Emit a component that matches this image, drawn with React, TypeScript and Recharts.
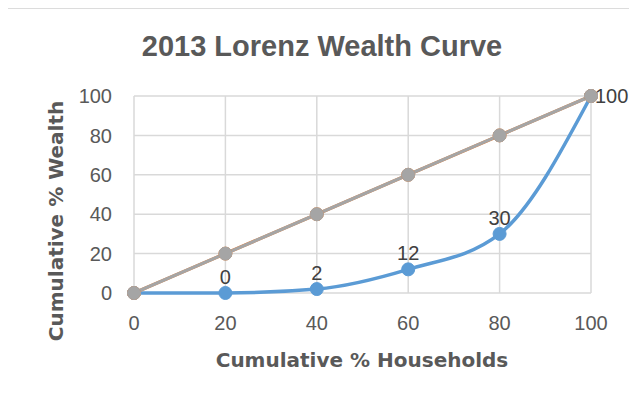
import { LineChart, Line, XAxis, YAxis, CartesianGrid, LabelList } from "recharts";

const households = [0, 20, 40, 60, 80, 100];
const wealthShare = [0, 0, 2, 12, 30, 100];
const equalityLine = [0, 20, 40, 60, 80, 100];
const xTicks = [0, 20, 40, 60, 80, 100];
const yTicks = [0, 20, 40, 60, 80, 100];

const TITLE = "2013 Lorenz Wealth Curve";
const X_TITLE = "Cumulative % Households";
const Y_TITLE = "Cumulative % Wealth";

const data = households.map((x, i) => ({
  x,
  wealth: wealthShare[i],
  equal: equalityLine[i],
}));

const tickFont = { fill: "#595959", fontSize: 20, fontFamily: "Liberation Sans, Arial, sans-serif" };

// Excel puts labels above each point, the last one to its right; first one is not shown
const WealthLabel = (props: any) => {
  const { x, y, value, index } = props;
  if (index === 0) return null;
  const last = index === data.length - 1;
  return (
    <text
      x={last ? x + 4 : x}
      y={last ? y + 7 : y - 9}
      textAnchor={last ? "start" : "middle"}
      fill="#404040"
      fontSize={20}
      fontFamily="Liberation Sans, Arial, sans-serif"
    >
      {value}
    </text>
  );
};

export default function App() {
  return (
    <div style={{ position: "relative", width: 637, height: 403, margin: -8, overflow: "hidden", background: "#fff" }}>
      <div
        style={{
          position: "absolute",
          left: 5,
          top: 7,
          width: 700,
          height: 500,
          borderLeft: "2px solid #dcdcdc",
          borderTop: "2px solid #dcdcdc",
        }}
      />
      <div style={{ position: "absolute", left: 0, top: 0 }}>
        <LineChart width={637} height={403} data={data} margin={{ top: 96, right: 46, bottom: 70, left: 74 }}>
          <CartesianGrid stroke="#d9d9d9" strokeWidth={1.5} />
          <XAxis
            type="number"
            dataKey="x"
            domain={[0, 100]}
            ticks={xTicks}
            axisLine={false}
            tickLine={false}
            tickSize={0}
            tickMargin={23}
            height={40}
            tick={tickFont}
          />
          <YAxis
            type="number"
            domain={[0, 100]}
            ticks={yTicks}
            axisLine={false}
            tickLine={false}
            tickSize={0}
            tickMargin={22}
            width={60}
            tick={tickFont}
          />
          <Line
            type="monotone"
            dataKey="wealth"
            stroke="#5B9BD5"
            strokeWidth={3.5}
            dot={{ r: 6.5, fill: "#5B9BD5", stroke: "#5B9BD5", strokeWidth: 1 }}
            isAnimationActive={false}
          >
            <LabelList dataKey="wealth" content={<WealthLabel />} />
          </Line>
          <Line
            type="linear"
            dataKey="equal"
            stroke="#ED7D31"
            strokeWidth={3.3}
            dot={{ r: 6.5, fill: "#ED7D31", stroke: "#ED7D31", strokeWidth: 1 }}
            isAnimationActive={false}
          />
          <Line
            type="linear"
            dataKey="equal"
            stroke="#A5A5A5"
            strokeWidth={3.2}
            dot={{ r: 6.5, fill: "#A5A5A5", stroke: "#A5A5A5", strokeWidth: 1 }}
            isAnimationActive={false}
          />
        </LineChart>
      </div>
      <svg width={637} height={403} style={{ position: "absolute", left: 0, top: 0, pointerEvents: "none" }}>
        <text
          x={322}
          y={56}
          textAnchor="middle"
          fill="#595959"
          fontSize={29}
          fontWeight="bold"
          fontFamily="Liberation Sans, Arial, sans-serif"
        >
          {TITLE}
        </text>
        <text
          x={362}
          y={367}
          textAnchor="middle"
          fill="#595959"
          fontSize={20}
          fontWeight="bold"
          fontFamily="DejaVu Sans, sans-serif"
        >
          {X_TITLE}
        </text>
        <text
          x={63}
          y={221}
          transform="rotate(-90 63 221)"
          textAnchor="middle"
          fill="#595959"
          fontSize={20}
          fontWeight="bold"
          fontFamily="DejaVu Sans, sans-serif"
        >
          {Y_TITLE}
        </text>
      </svg>
    </div>
  );
}
